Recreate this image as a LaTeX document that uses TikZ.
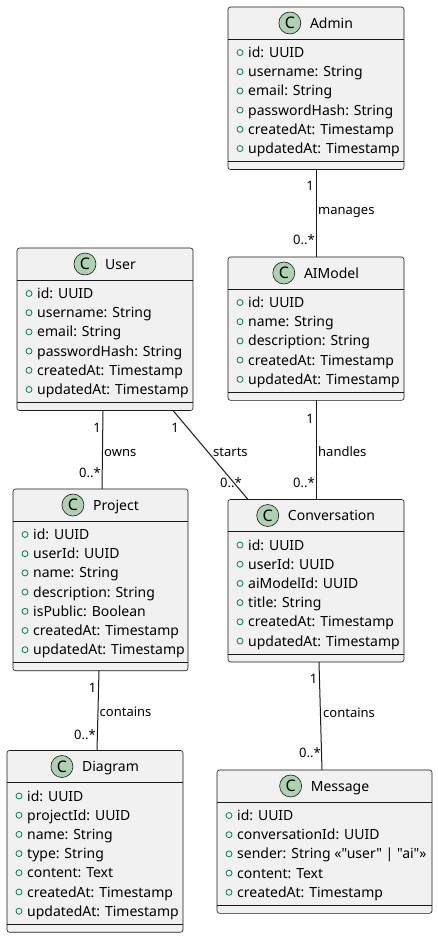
\documentclass[tikz,border=0pt]{standalone}
\usepackage{fontspec}
\setmainfont{Noto Sans}
\newfontfamily\umlfont{Noto Sans}
\definecolor{boxfill}{HTML}{F1F1F1}
\definecolor{boxline}{HTML}{181818}
\definecolor{spotfill}{HTML}{ADD1B2}
\definecolor{visgreen}{HTML}{038048}
\tikzset{
  classbox/.style={draw=boxline, fill=boxfill, line width=0.6pt, rounded corners=2.5pt, inner sep=0pt, outer sep=0pt},
  sepline/.style={draw=boxline, line width=0.6pt},
  namefont/.style={inner sep=0pt, text height=10pt, text depth=0pt, font=\umlfont\fontsize{14}{16}\selectfont},
  attr/.style={inner sep=0pt, text height=10pt, text depth=0pt, font=\umlfont\fontsize{14}{16}\selectfont, anchor=west},
  spot/.style={circle, draw=boxline, fill=spotfill, line width=0.6pt, minimum size=22pt, inner sep=0pt, font=\umlfont\fontsize{16}{16}\selectfont\bfseries},
  vis/.style={circle, draw=visgreen, line width=0.8pt, minimum size=6pt, inner sep=0pt},
  assoc/.style={draw=boxline, line width=1pt},
  lbl/.style={inner sep=0pt, text height=9.3pt, text depth=0pt, font=\umlfont\fontsize{13}{15}\selectfont},
}
\newcommand{\umlclass}[7]{%
  \node[classbox, minimum width=#4pt, minimum height=#5pt, anchor=north west] (#1) at (#2,#3) {};
  \draw[sepline] (#2,#3+32) -- (#2+#4,#3+32);
  \draw[sepline] (#2,#3+#5-8) -- (#2+#4,#3+#5-8);
  \node[namefont] (#1-name) at (#2+#4/2+15.5,#3+16) {#6};
  \node[spot] (#1-spot) at ([xshift=-20pt]#1-name.west) {C};
  \foreach \r [count=\i] in {#7} {
    \node[vis] (#1-v\i) at (#2+12,#3+45.5+\i*19.2-19.2) {};
    \node[attr] (#1-a\i) at (#2+20,#3+45.5+\i*19.2-19.2) {\r};
  }
}
\begin{document}
\begin{tikzpicture}[x=1pt,y=-1pt]
\useasboundingbox (0,0) rectangle (438,937);

\umlclass{admin}{228}{7}{176}{162.5}{Admin}{id: UUID, username: String, email: String, passwordHash: String, createdAt: Timestamp, updatedAt: Timestamp}
\umlclass{user}{17}{248}{176}{162.5}{User}{id: UUID, username: String, email: String, passwordHash: String, createdAt: Timestamp, updatedAt: Timestamp}
\umlclass{aimodel}{228}{257}{176}{143.3}{AIModel}{id: UUID, name: String, description: String, createdAt: Timestamp, updatedAt: Timestamp}
\umlclass{project}{13}{489}{175}{181.7}{Project}{id: UUID, userId: UUID, name: String, description: String, isPublic: Boolean, createdAt: Timestamp, updatedAt: Timestamp}
\umlclass{conversation}{228}{499.5}{176}{162.5}{Conversation}{id: UUID, userId: UUID, aiModelId: UUID, title: String, createdAt: Timestamp, updatedAt: Timestamp}
\umlclass{diagram}{7}{750.5}{176}{181.7}{Diagram}{id: UUID, projectId: UUID, name: String, type: String, content: Text, createdAt: Timestamp, updatedAt: Timestamp}
\umlclass{message}{217}{770}{215}{143.3}{Message}{id: UUID, conversationId: UUID, sender: String «"user" | "ai"», content: Text, createdAt: Timestamp}

% associations
\draw[assoc] (admin.south) -- (aimodel.north);
\node[lbl, anchor=east] (m1) at (314,186) {1};
\node[lbl, anchor=west] (mt) at (318,210) {manages};
\node[lbl, anchor=east] (m2) at (315,240) {0..*};

\draw[assoc] (aimodel.south) -- (conversation.north);
\node[lbl, anchor=east] (h1) at (314,419) {1};
\node[lbl, anchor=west] (ht) at (318,452) {handles};
\node[lbl, anchor=east] (h2) at (315,483) {0..*};

\draw[assoc] ([xshift=-2pt]user.south) -- ([xshift=1.5pt]project.north);
\node[lbl, anchor=east] (o1) at (101,428) {1};
\node[lbl, anchor=west] (ot) at (104,452) {owns};
\node[lbl, anchor=east] (o2) at (101,473) {0..*};

\draw[assoc] ([xshift=68pt]user.south) -- ([xshift=-68pt]conversation.north);
\node[lbl] (s1) at (175,428) {1};
\node[lbl, anchor=west] (st) at (213,452) {starts};
\node[lbl, anchor=west] (s2) at (220,483) {0..*};

\draw[assoc] ([xshift=-1.5pt]project.south) -- ([xshift=2pt]diagram.north);
\node[lbl, anchor=east] (c1) at (96.5,688) {1};
\node[lbl, anchor=west] (ct) at (99.5,712) {contains};
\node[lbl, anchor=east] (c2) at (96,735) {0..*};

\draw[assoc] ([xshift=3pt]conversation.south) -- ([xshift=-2.5pt]message.north);
\node[lbl, anchor=east] (d1) at (317.5,679) {1};
\node[lbl, anchor=west] (dt) at (323,713) {contains};
\node[lbl, anchor=east] (d2) at (321,753) {0..*};
\end{tikzpicture}
\end{document}
